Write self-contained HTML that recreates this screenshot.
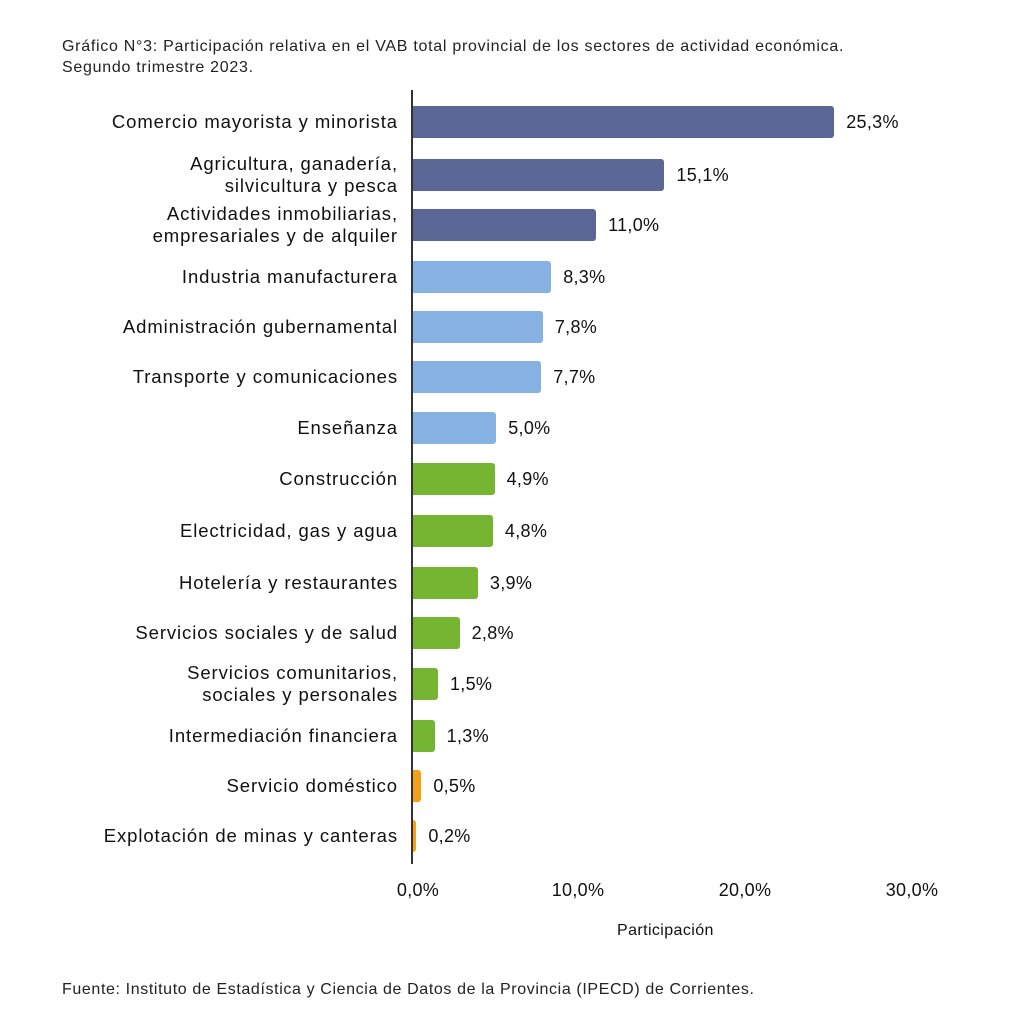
<!DOCTYPE html>
<html><head><meta charset="utf-8"><style>
body{margin:0;width:1018px;height:1024px;background:#fff;position:relative;font-family:"Liberation Sans",sans-serif;color:#111;overflow:hidden}
.t{position:absolute;font-size:16px;color:#222}
.ax{position:absolute;left:411px;top:90px;width:2px;height:774px;background:#333}
.b{position:absolute;left:413px;height:32px;border-radius:0 3px 3px 0}
.l{position:absolute;right:620px;font-size:18.5px;letter-spacing:0.9px;text-align:right;line-height:22px;white-space:nowrap}
.v{position:absolute;font-size:18px;line-height:22px;letter-spacing:0.3px}
.x{position:absolute;top:880px;font-size:18px;letter-spacing:0.3px;transform:translateX(-50%)}
</style></head><body>
<div class="t" style="left:62px;top:36px;line-height:21px;letter-spacing:0.72px">Gráfico N°3: Participación relativa en el VAB total provincial de los sectores de actividad económica.<br>Segundo trimestre 2023.</div>
<div class="ax"></div>
<div id="c"></div>
<div class="x" style="left:418px">0,0%</div>
<div class="x" style="left:578px">10,0%</div>
<div class="x" style="left:745px">20,0%</div>
<div class="x" style="left:912px">30,0%</div>
<div style="position:absolute;left:617px;top:922px;font-size:16px;letter-spacing:0.4px">Participación</div>
<div class="t" style="left:62px;top:981px;letter-spacing:0.62px">Fuente: Instituto de Estadística y Ciencia de Datos de la Provincia (IPECD) de Corrientes.</div>
<script>
var d=[["Comercio mayorista y minorista",25.3,"#5a6694",122],
["Agricultura, ganadería,<br>silvicultura y pesca",15.1,"#5a6694",175],
["Actividades inmobiliarias,<br>empresariales y de alquiler",11.0,"#5a6694",225],
["Industria manufacturera",8.3,"#85b1e3",277],
["Administración gubernamental",7.8,"#85b1e3",327],
["Transporte y comunicaciones",7.7,"#85b1e3",377],
["Enseñanza",5.0,"#85b1e3",428],
["Construcción",4.9,"#76b531",479],
["Electricidad, gas y agua",4.8,"#76b531",531],
["Hotelería y restaurantes",3.9,"#76b531",583],
["Servicios sociales y de salud",2.8,"#76b531",633],
["Servicios comunitarios,<br>sociales y personales",1.5,"#76b531",684],
["Intermediación financiera",1.3,"#76b531",736],
["Servicio doméstico",0.5,"#f5a01a",786],
["Explotación de minas y canteras",0.2,"#f5a01a",836]];
var h="";
d.forEach(function(r){var w=r[1]*16.65;var two=r[0].indexOf("<br>")>0;
h+='<div class="b" style="top:'+(r[3]-16)+'px;width:'+w+'px;background:'+r[2]+'"></div>';
h+='<div class="l" style="top:'+(r[3]-(two?22:11))+'px">'+r[0]+'</div>';
h+='<div class="v" style="left:'+(413+w+12)+'px;top:'+(r[3]-11)+'px">'+r[1].toFixed(1).replace(".",",")+'%</div>';});
document.getElementById("c").innerHTML=h;
</script>
</body></html>
